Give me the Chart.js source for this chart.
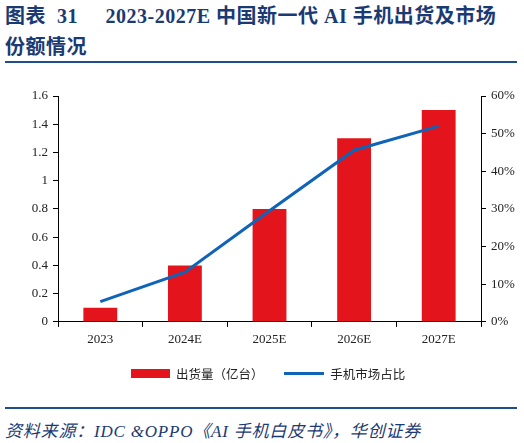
<!DOCTYPE html>
<html>
<head>
<meta charset="utf-8">
<script src="https://cdn.jsdelivr.net/npm/chart.js@4.4.0/dist/chart.umd.min.js"></script>
<style>
  body { margin: 0; width: 524px; height: 443px; background: #fff; position: relative; overflow: hidden; }
  .title { position: absolute; left: 5px; top: 1px; width: 519px; white-space: nowrap; color: #1B3A73; font: bold 20px "Liberation Serif", "Noto Sans CJK SC", serif; line-height: 31px; letter-spacing: 0.5px; }
  .rule { position: absolute; left: 5px; width: 512px; height: 2px; background: #1F4E8C; }
  .source { position: absolute; left: 5px; top: 417px; white-space: nowrap; color: #1B3A73; font: italic 17px "Liberation Serif", "Noto Sans CJK SC", serif; letter-spacing: 0.8px; }
  #wrap { position: absolute; left: 0; top: 70px; width: 524px; height: 330px; }
</style>
</head>
<body>
<div class="title">图表&nbsp;&nbsp;31&nbsp;&nbsp;&nbsp;&nbsp;&nbsp;2023-2027E 中国新一代 AI 手机出货及市场<br>份额情况</div>
<div class="rule" style="top:61px"></div>
<div id="wrap"><canvas id="chart"></canvas></div>
<div class="rule" style="top:407px"></div>
<div class="source">资料来源：IDC &amp;OPPO《AI 手机白皮书》，华创证券</div>
<script>
const years = ['2023', '2024E', '2025E', '2026E', '2027E'];
const shipments = [0.1, 0.4, 0.8, 1.3, 1.5];
const marketShare = [0.054, 0.132, 0.295, 0.456, 0.52];

const barColor = '#E3141C';
const lineColor = '#0F64B8';
const tickFont = { family: '"Liberation Serif", serif', size: 13 };

// small legend swatches
function swatch(w, h, color) {
  const c = document.createElement('canvas');
  c.width = w; c.height = h;
  const g = c.getContext('2d');
  g.fillStyle = color;
  g.fillRect(0, 0, w, h);
  return c;
}

const ctx = document.getElementById('chart').getContext('2d');
const chart = new Chart(ctx, {
  type: 'bar',
  data: {
    labels: years,
    datasets: [{
      type: 'line',
      label: '手机市场占比',
      data: marketShare,
      yAxisID: 'y1',
      borderColor: lineColor,
      backgroundColor: lineColor,
      borderWidth: 3,
      pointRadius: 0,
      pointStyle: swatch(40, 3, lineColor),
      tension: 0,
      order: 0
    }, {
      label: '出货量（亿台）\u3000',   // trailing space widens the gap between legend items
      data: shipments,
      yAxisID: 'y',
      backgroundColor: barColor,
      borderWidth: 0,
      pointStyle: swatch(39, 9, barColor),
      barPercentage: 0.8,
      categoryPercentage: 0.5,
      order: 1
    }]
  },
  options: {
    responsive: true,
    maintainAspectRatio: false,
    animation: false,
    layout: { padding: { top: 26, left: 12, right: 0, bottom: 10 } },
    plugins: {
      tooltip: { enabled: false },
      legend: {
        position: 'bottom',
        reverse: true,
        labels: {
          usePointStyle: true,
          pointStyleWidth: 39,
          boxHeight: 9,
          padding: 15,
          color: '#222',
          font: { family: '"Noto Sans CJK SC", sans-serif', size: 12.5 }
        }
      }
    },
    scales: {
      x: {
        grid: { display: true, drawOnChartArea: false, drawTicks: true, tickLength: 5, color: '#000' },
        border: { color: '#000', width: 1 },
        ticks: { color: '#222', font: tickFont, padding: 5 }
      },
      y: {
        position: 'left',
        min: 0, max: 1.6,
        afterFit: s => { s.width = 46; },
        grid: { display: true, drawOnChartArea: false, tickLength: 5, color: '#000' },
        border: { color: '#000', width: 1 },
        ticks: { stepSize: 0.2, color: '#222', font: tickFont, padding: 5,
          callback: v => Math.round(v * 10) / 10 }
      },
      y1: {
        position: 'right',
        min: 0, max: 0.6,
        afterFit: s => { s.width = 43; },
        grid: { display: true, drawOnChartArea: false, tickLength: 5, color: '#000' },
        border: { color: '#000', width: 1 },
        ticks: { stepSize: 0.1, color: '#222', font: tickFont, padding: 5,
          callback: v => Math.round(v * 100) + '%' }
      }
    }
  }
});
</script>
</body>
</html>
